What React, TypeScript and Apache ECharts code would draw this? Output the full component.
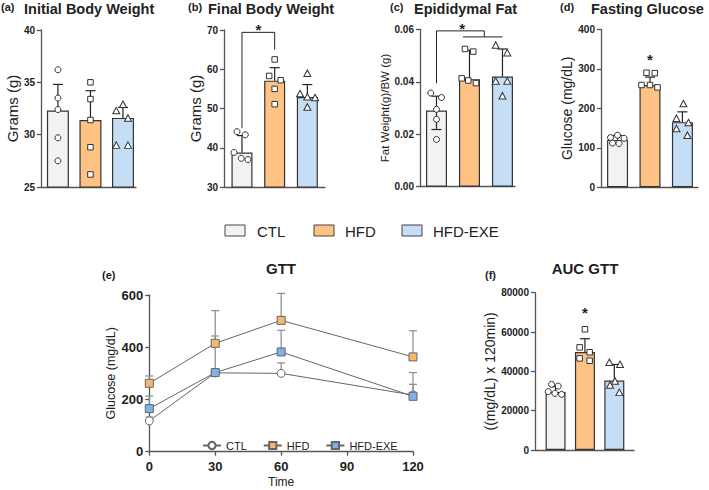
import React, { useEffect, useRef } from 'react';
import * as echarts from 'echarts';

const groups = ['CTL', 'HFD', 'HFD-EXE'];

// (a) Initial Body Weight (g)
const initialMean = [32.3, 31.4, 31.6];
const initialSD = [2.5, 2.8, 1.0];
const initialCTL = [36.2, 33.5, 32.4, 29.7, 27.5];
const initialHFD = [35.0, 33.4, 31.4, 28.8, 26.2];
const initialEXE = [32.9, 32.3, 31.6, 29.0, 29.0];

// (b) Final Body Weight (g)
const finalMean = [38.8, 57.1, 52.9];
const finalSD = [4.3, 3.3, 3.2];
const finalCTL = [44.1, 43.3, 38.8, 37.3, 37.0];
const finalHFD = [62.5, 58.3, 57.2, 55.0, 51.1];
const finalEXE = [59.0, 53.8, 53.0, 52.8, 50.4];
const finalBracket = [[0, 45], [0, 69.4], [1, 69.4], [1, 65]];
const finalStar = [[0.5, 71]];

// (c) Epididymal Fat (g/g BW)
const fatMean = [0.029, 0.041, 0.042];
const fatSDUp = [0.0055, 0.011, 0.0105];
const fatSDDown = [0.0072, 0, 0];
const fatCTL = [0.0357, 0.034, 0.0295, 0.0257, 0.018];
const fatHFD = [0.0525, 0.0515, 0.0413, 0.0405, 0.0395];
const fatEXE = [0.054, 0.0511, 0.0403, 0.0403, 0.0347];
const fatBracketMain = [[0, 0.0394], [0, 0.0594], [1.45, 0.0594], [1.45, 0.0571]];
const fatBracketSub = [[0.8, 0.0571], [2, 0.0571]];
const fatStar = [[0.78, 0.0616]];

// (d) Fasting Glucose (mg/dL)
const fastMean = [120, 259, 165];
const fastSD = [11, 20, 26];
const fastCTL = [132, 126, 124, 112, 111];
const fastHFD = [290, 289, 259, 259, 253];
const fastEXE = [212, 175, 164, 149, 132];
const fastStar = [[1, 331]];

// (e) GTT
const gttTime = [0, 30, 60, 120];
const gttCTL = [118, 302, 300, 217];
const gttCTLsd = [15, 10, 40, 41];
const gttHFD = [262, 415, 503, 363];
const gttHFDsd = [28, 125, 103, 100];
const gttEXE = [165, 303, 382, 212];
const gttEXEsd = [48, 140, 83, 91];

// (f) AUC GTT
const aucMean = [29500, 49800, 35300];
const aucSD = [2700, 6800, 8200];
const aucCTL = [33400, 32500, 29700, 28800, 28300];
const aucHFD = [61400, 52200, 49700, 46600, 45400];
const aucEXE = [44600, 43600, 35100, 33100, 29300];
const aucStar = [[1, 71500]];

// horizontal jitter of the dots (px, style only)
const jitInitial = [[0, 0, 0, 0, 0], [0, 0, 0, 0, 0], [0, -6.7, 5, -6.7, 5]];
const jitFinal = [[-5, 3.3, -8, -0.7, 6], [0, -5.5, 6, 0, 0], [0, -7.3, 0, 7.7, 0]];
const jitFat = [[-5.7, 5, 0, 0, 0], [-4.5, 3.8, -7.8, -1.2, 6.5], [-6.8, 4.8, -6.8, 4.8, 0]];
const jitFast = [[0, -7, 6.5, -5, 1.5], [-3.5, 4.8, -8.5, 0, 7.5], [1, -6, 6, -6, 5]];
const jitAuc = [[-4, 2.7, -7.3, -0.7, 6], [0, -5.3, 4.7, -5.3, 4.7], [-5, 5.7, 0.7, -4.3, 5]];

const FONT = '"Liberation Sans", Arial, Helvetica, sans-serif';
const barColors = ['#f2f2f2', '#ffc285', '#c6ddf6'];
const markerColors = ['#ffffff', '#f9b670', '#7fb2ea'];
const pointSymbols = ['circle', 'rect', 'triangle'];
const pointSizes: any[] = [6, 5.5, [7, 6.5]];
const AXIS = '#555';
const INK = '#222';

const errorRender = (cap: number, color: string, width: number) => (params: any, api: any) => {
  const x = api.value(0);
  const m = api.value(1);
  const up = api.value(2);
  const dn = api.value(3) || 0;
  const top = api.coord([x, m + up]);
  const mid = api.coord([x, m]);
  const bot = api.coord([x, m - dn]);
  const start = dn > 0 ? bot : mid;
  const st = { stroke: color, lineWidth: width };
  const children: any[] = [
    { type: 'line', shape: { x1: top[0], y1: start[1], x2: top[0], y2: top[1] }, style: st },
    { type: 'line', shape: { x1: top[0] - cap, y1: top[1], x2: top[0] + cap, y2: top[1] }, style: st },
  ];
  if (dn > 0) {
    children.push({ type: 'line', shape: { x1: bot[0] - cap, y1: bot[1], x2: bot[0] + cap, y2: bot[1] }, style: st });
  }
  return { type: 'group', children };
};

const starRender = (params: any, api: any) => {
  const p = api.coord([api.value(0), api.value(1)]);
  return {
    type: 'text',
    x: p[0],
    y: p[1] + 3,
    style: { text: '*', font: `bold 15px ${FONT}`, fill: INK, align: 'center', verticalAlign: 'middle' },
  };
};

type BarPanel = {
  grid: { left: number; top: number; width: number; height: number };
  xMin: number;
  xMax: number;
  yMin: number;
  yMax: number;
  yInterval: number;
  yDecimals?: number;
  yName: string;
  yNameSize: number;
  yNameGap: number;
  barWidth: number;
  mean: number[];
  errUp: number[];
  errDown?: number[];
  points: number[][];
  jitter: number[][];
  brackets?: number[][][];
  stars?: number[][];
};

function addBarPanel(idx: number, p: BarPanel, opt: any) {
  opt.grid.push({ ...p.grid });
  opt.xAxis.push({
    type: 'value', gridIndex: idx, min: p.xMin, max: p.xMax, position: 'bottom',
    axisLine: { show: true, onZero: false, lineStyle: { color: AXIS, width: 1.3 } },
    axisTick: { show: false }, axisLabel: { show: false }, splitLine: { show: false },
  });
  opt.yAxis.push({
    type: 'value', gridIndex: idx, min: p.yMin, max: p.yMax, interval: p.yInterval, position: 'left',
    axisLine: { show: true, onZero: false, lineStyle: { color: AXIS, width: 1.3 } },
    axisTick: { show: true, length: 4, lineStyle: { color: AXIS, width: 1.3 } },
    axisLabel: {
      fontSize: 10, fontWeight: 'bold', color: INK, margin: 6, fontFamily: FONT,
      formatter: (v: number) => (p.yDecimals ? v.toFixed(p.yDecimals) : String(v)),
    },
    splitLine: { show: false },
    name: p.yName, nameLocation: 'middle', nameGap: p.yNameGap,
    nameTextStyle: { fontSize: p.yNameSize, color: INK, fontFamily: FONT },
  });
  opt.series.push({
    type: 'bar', xAxisIndex: idx, yAxisIndex: idx, barWidth: p.barWidth, z: 2,
    data: p.mean.map((m, k) => ({
      value: [k, m],
      itemStyle: { color: barColors[k], borderColor: '#333', borderWidth: 1.2 },
    })),
  });
  opt.series.push({
    type: 'custom', xAxisIndex: idx, yAxisIndex: idx, z: 3, clip: false,
    renderItem: errorRender(5, '#222', 1.2),
    data: p.mean.map((m, k) => [k, m, p.errUp[k], p.errDown ? p.errDown[k] : 0]),
  });
  p.points.forEach((vals, k) => {
    opt.series.push({
      type: 'scatter', xAxisIndex: idx, yAxisIndex: idx, z: 4,
      symbol: pointSymbols[k], symbolSize: pointSizes[k],
      itemStyle: { color: '#ffffff', borderColor: '#333', borderWidth: 1, opacity: 1 },
      data: vals.map((v, j) => ({ value: [k, v], symbolOffset: [p.jitter[k][j], 0] })),
    });
  });
  (p.brackets || []).forEach((b) => {
    opt.series.push({
      type: 'line', xAxisIndex: idx, yAxisIndex: idx, z: 3, symbol: 'none', silent: true,
      lineStyle: { color: INK, width: 1 }, data: b,
    });
  });
  if (p.stars) {
    opt.series.push({
      type: 'custom', xAxisIndex: idx, yAxisIndex: idx, z: 5, clip: false,
      renderItem: starRender, data: p.stars,
    });
  }
}

function buildOption() {
  const opt: any = {
    animation: false,
    backgroundColor: '#ffffff',
    textStyle: { fontFamily: FONT },
    grid: [], xAxis: [], yAxis: [], series: [], graphic: [],
  };

  addBarPanel(0, {
    grid: { left: 41, top: 30, width: 95, height: 157 },
    xMin: -0.52, xMax: 2.4, yMin: 25, yMax: 40, yInterval: 5,
    yName: 'Grams (g)', yNameSize: 15, yNameGap: 17, barWidth: 22,
    mean: initialMean, errUp: initialSD,
    points: [initialCTL, initialHFD, initialEXE], jitter: jitInitial,
  }, opt);

  addBarPanel(1, {
    grid: { left: 224, top: 30, width: 101, height: 157 },
    xMin: -0.55, xMax: 2.54, yMin: 30, yMax: 70, yInterval: 10,
    yName: 'Grams (g)', yNameSize: 15, yNameGap: 16.5, barWidth: 21,
    mean: finalMean, errUp: finalSD,
    points: [finalCTL, finalHFD, finalEXE], jitter: jitFinal,
    brackets: [finalBracket], stars: finalStar,
  }, opt);

  addBarPanel(2, {
    grid: { left: 420, top: 29.3, width: 95, height: 157.4 },
    xMin: -0.5, xMax: 2.38, yMin: 0, yMax: 0.06, yInterval: 0.02, yDecimals: 2,
    yName: 'Fat Weight(g)/BW (g)', yNameSize: 11.5, yNameGap: 28, barWidth: 21,
    mean: fatMean, errUp: fatSDUp, errDown: fatSDDown,
    points: [fatCTL, fatHFD, fatEXE], jitter: jitFat,
    brackets: [fatBracketMain, fatBracketSub], stars: fatStar,
  }, opt);

  addBarPanel(3, {
    grid: { left: 601, top: 29.3, width: 97, height: 158 },
    xMin: -0.51, xMax: 2.48, yMin: 0, yMax: 400, yInterval: 100,
    yName: 'Glucose (mg/dL)', yNameSize: 14, yNameGap: 24.3, barWidth: 21,
    mean: fastMean, errUp: fastSD,
    points: [fastCTL, fastHFD, fastEXE], jitter: jitFast, stars: fastStar,
  }, opt);

  // (e) GTT line chart
  opt.grid.push({ left: 149.3, top: 295, width: 263.7, height: 156.7 });
  opt.xAxis.push({
    type: 'value', gridIndex: 4, min: 0, max: 120, interval: 30, position: 'bottom',
    axisLine: { show: true, onZero: false, lineStyle: { color: AXIS, width: 1.3 } },
    axisTick: { show: true, length: 4, lineStyle: { color: AXIS, width: 1.3 } },
    axisLabel: { fontSize: 13, fontWeight: 'bold', color: INK, margin: 8, fontFamily: FONT },
    splitLine: { show: false },
    name: 'Time', nameLocation: 'middle', nameGap: 24,
    nameTextStyle: { fontSize: 12, color: INK, fontFamily: FONT },
  });
  opt.yAxis.push({
    type: 'value', gridIndex: 4, min: 0, max: 600, interval: 200, position: 'left',
    axisLine: { show: true, onZero: false, lineStyle: { color: AXIS, width: 1.3 } },
    axisTick: { show: true, length: 4, lineStyle: { color: AXIS, width: 1.3 } },
    axisLabel: { fontSize: 13, fontWeight: 'bold', color: INK, margin: 6, fontFamily: FONT },
    splitLine: { show: false },
    name: 'Glucose (mg/dL)', nameLocation: 'middle', nameGap: 28.5,
    nameTextStyle: { fontSize: 12.5, color: INK, fontFamily: FONT },
  });
  const gttMeans = [gttCTL, gttHFD, gttEXE];
  const gttSDs = [gttCTLsd, gttHFDsd, gttEXEsd];
  gttMeans.forEach((means, k) => {
    opt.series.push({
      type: 'custom', xAxisIndex: 4, yAxisIndex: 4, z: 2, clip: false,
      renderItem: errorRender(4, '#8a8a8a', 1.2),
      data: gttTime.map((t, i) => [t, means[i], gttSDs[k][i], 0]),
    });
  });
  gttMeans.forEach((means, k) => {
    opt.series.push({
      name: groups[k], type: 'line', xAxisIndex: 4, yAxisIndex: 4, z: 3 + k,
      symbol: k === 0 ? 'circle' : 'rect', symbolSize: 8, showSymbol: true,
      lineStyle: { color: '#666', width: 1 },
      itemStyle: { color: markerColors[k], borderColor: '#666', borderWidth: 1 },
      data: gttTime.map((t, i) => [t, means[i]]),
    });
  });
  opt.legend = {
    data: groups, left: 197, top: 435, itemWidth: 18, itemHeight: 9, itemGap: 16,
    selectedMode: false, textStyle: { fontSize: 11, color: INK, fontFamily: FONT },
  };

  addBarPanel(5, {
    grid: { left: 535, top: 292.7, width: 99, height: 157.3 },
    xMin: -0.7, xMax: 2.67, yMin: 0, yMax: 80000, yInterval: 20000,
    yName: '((mg/dL) x 120min)', yNameSize: 14, yNameGap: 35, barWidth: 20,
    mean: aucMean, errUp: aucSD,
    points: [aucCTL, aucHFD, aucEXE], jitter: jitAuc, stars: aucStar,
  }, opt);

  // titles
  const tag = (text: string, x: number, y: number, size = 11) => ({
    type: 'text', x, y, silent: true,
    style: { text, font: `bold ${size}px ${FONT}`, fill: INK, align: 'left', verticalAlign: 'middle' },
  });
  const head = (text: string, x: number, y: number, align = 'left', size = 14.5) => ({
    type: 'text', x, y, silent: true,
    style: { text, font: `bold ${size}px ${FONT}`, fill: INK, align, verticalAlign: 'middle' },
  });
  opt.graphic.push(
    tag('(a)', 1, 7), head('Initial Body Weight', 24, 9),
    tag('(b)', 188, 7), head('Final Body Weight', 208, 9),
    tag('(c)', 390, 7), head('Epididymal Fat', 414, 9),
    tag('(d)', 560, 7), head('Fasting Glucose', 591, 9),
    tag('(e)', 102, 275), head('GTT', 281, 268, 'center', 15),
    tag('(f)', 485, 275), head('AUC GTT', 585, 268, 'center', 15),
  );

  // group legend
  const boxX = [225, 314, 402];
  const textX = [257, 345, 433];
  groups.forEach((g, k) => {
    opt.graphic.push({
      type: 'rect', silent: true,
      shape: { x: boxX[k], y: 225, width: 20, height: 11 },
      style: { fill: barColors[k], stroke: '#444', lineWidth: 1 },
    });
    opt.graphic.push({
      type: 'text', x: textX[k], y: 231, silent: true,
      style: { text: g, font: `15px ${FONT}`, fill: INK, align: 'left', verticalAlign: 'middle' },
    });
  });

  return opt;
}

export default function App() {
  const ref = useRef<HTMLDivElement>(null);
  useEffect(() => {
    if (!ref.current) return;
    const chart = echarts.init(ref.current, null, { renderer: 'svg' });
    chart.setOption(buildOption());
    return () => chart.dispose();
  }, []);
  return (
    <div
      ref={ref}
      style={{ position: 'absolute', left: 0, top: 0, width: 709, height: 490, background: '#fff' }}
    />
  );
}
